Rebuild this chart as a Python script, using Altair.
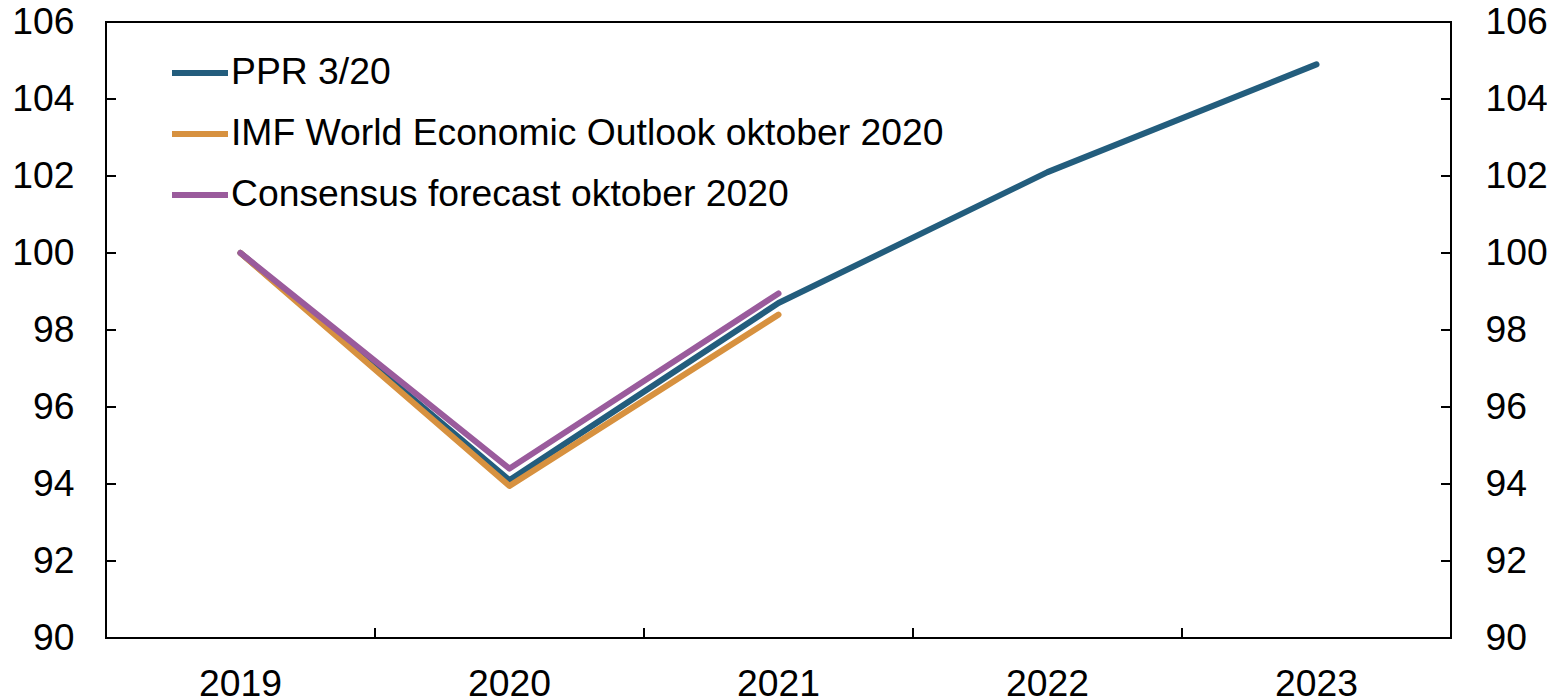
import altair as alt
import pandas as pd

years = ["2019", "2020", "2021", "2022", "2023"]
ppr = [100.0, 94.1, 98.7, 102.1, 104.9]
imf = [100.0, 93.95, 98.4]
cons = [100.0, 94.4, 98.95]
series = ["PPR 3/20", "IMF World Economic Outlook oktober 2020", "Consensus forecast oktober 2020"]
colors = ["#235D7D", "#D7913F", "#9A5B9C"]
y_ticks = [90, 92, 94, 96, 98, 100, 102, 104, 106]

rows = []
for k, (name, vals) in enumerate(zip(series, [ppr, imf, cons])):
    for yr, v in zip(years, vals):
        rows.append({"year": yr, "value": v, "series": name, "z": k})
df = pd.DataFrame(rows)
df_yt = pd.DataFrame({"v": y_ticks})
df_xt = pd.DataFrame({"year": years[1:]})

W, H = 1345, 616
FONT = "Liberation Sans"
FS = 37.3
TL = 10

xscale = alt.Scale(type="band", domain=years, paddingInner=0, paddingOuter=0)
yscale = alt.Scale(domain=[90, 106], nice=False, zero=False)
x_axis = alt.Axis(title=None, labelAngle=0, ticks=False, domain=False, grid=False,
                  labelPadding=28, labelFontSize=FS, labelFont=FONT, labelColor="black")

lines = alt.Chart(df).mark_line(strokeWidth=6, strokeCap="round", strokeJoin="round").encode(
    x=alt.X("year:O", scale=xscale, bandPosition=0.5, axis=x_axis),
    y=alt.Y("value:Q", scale=yscale,
            axis=alt.Axis(title=None, values=y_ticks, ticks=False, domain=False, grid=False,
                          labelPadding=32, labelFontSize=FS, labelFont=FONT, labelColor="black")),
    color=alt.Color("series:N", scale=alt.Scale(domain=series, range=colors),
                    legend=alt.Legend(title=None, orient="none", legendX=63, legendY=20,
                                      symbolType="stroke", symbolSize=3136, symbolStrokeWidth=6,
                                      labelFontSize=FS, labelFont=FONT, labelColor="black",
                                      labelLimit=1200, labelOffset=0, rowPadding=11)),
    detail="z:N",
)

ticks_left = alt.Chart(df_yt).mark_rule(color="black", strokeWidth=2).encode(
    y=alt.Y("v:Q", scale=yscale, axis=None),
    x=alt.value(0), x2=alt.value(TL),
)

ticks_x = alt.Chart(df_xt).mark_rule(color="black", strokeWidth=2).encode(
    x=alt.X("year:O", scale=xscale, bandPosition=0, axis=x_axis),
    y=alt.value(H), y2=alt.value(H - TL),
)

ticks_right = alt.Chart(df_yt).mark_rule(color="black", strokeWidth=2).encode(
    y=alt.Y("v:Q", scale=yscale,
            axis=alt.Axis(orient="right", title=None, values=y_ticks, ticks=False, domain=False,
                          grid=False, labelPadding=34, labelFontSize=FS, labelFont=FONT,
                          labelColor="black")),
    x=alt.value(W - TL), x2=alt.value(W),
)

chart = alt.layer(lines, ticks_left, ticks_x, ticks_right).resolve_scale(
    y="independent"
).properties(
    width=W, height=H,
    background="white",
    autosize=alt.AutoSizeParams(type="none"),
    padding={"left": 98, "top": 14, "right": 96, "bottom": 62},
).configure_view(stroke="black", strokeWidth=2)

chart.save("out.html", embed_options={"renderer": "svg", "actions": False})
